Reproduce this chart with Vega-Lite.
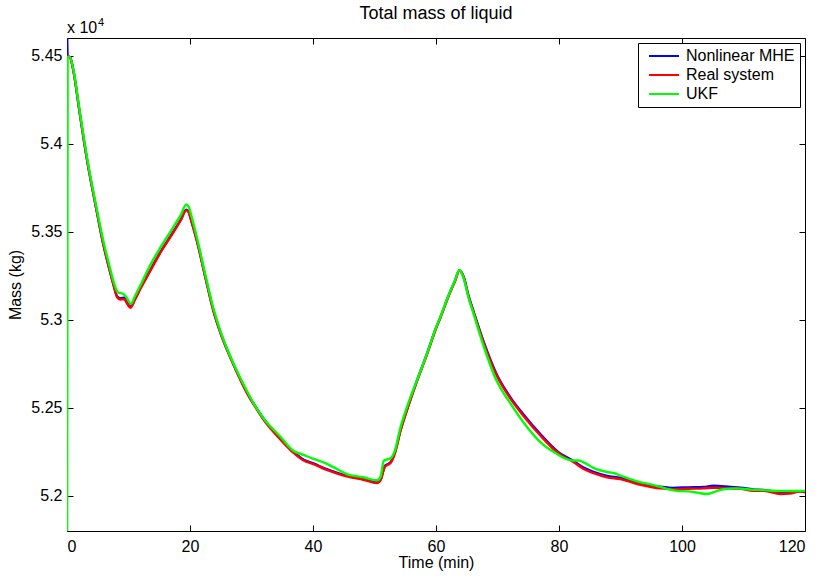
{
  "$schema": "https://vega.github.io/schema/vega-lite/v6.json",
  "width": 738,
  "height": 493,
  "autosize": {"type": "none"},
  "padding": {"left": 67, "top": 38, "right": 19, "bottom": 47},
  "background": "white",
  "config": {
    "font": "Liberation Sans",
    "view": {"stroke": "black", "strokeWidth": 1},
    "axis": {
      "grid": false,
      "domain": false,
      "labelFont": "Liberation Sans",
      "labelFontSize": 16,
      "labelColor": "black",
      "titleFont": "Liberation Sans",
      "titleFontSize": 16,
      "titleFontWeight": "normal",
      "titleColor": "black",
      "tickColor": "black",
      "tickSize": -6,
      "tickWidth": 1
    }
  },
  "title": {
    "text": "Total mass of liquid",
    "font": "Liberation Sans",
    "fontSize": 18,
    "fontWeight": "normal",
    "color": "black",
    "anchor": "middle",
    "offset": -6
  },
  "datasets": {
    "mass": [
      {"time": 0, "mass": 54700, "series": "Nonlinear MHE"},
      {"time": 0.1, "mass": 54495, "series": "Nonlinear MHE"},
      {"time": 0.5, "mass": 54490, "series": "Nonlinear MHE"},
      {"time": 1.07, "mass": 54408, "series": "Nonlinear MHE"},
      {"time": 2.0, "mass": 54190, "series": "Nonlinear MHE"},
      {"time": 2.7, "mass": 54029, "series": "Nonlinear MHE"},
      {"time": 3.5, "mass": 53860, "series": "Nonlinear MHE"},
      {"time": 4.33, "mass": 53707, "series": "Nonlinear MHE"},
      {"time": 5.2, "mass": 53550, "series": "Nonlinear MHE"},
      {"time": 5.95, "mass": 53422, "series": "Nonlinear MHE"},
      {"time": 6.8, "mass": 53300, "series": "Nonlinear MHE"},
      {"time": 7.58, "mass": 53197, "series": "Nonlinear MHE"},
      {"time": 8.2, "mass": 53130, "series": "Nonlinear MHE"},
      {"time": 8.7, "mass": 53122, "series": "Nonlinear MHE"},
      {"time": 9.3, "mass": 53125, "series": "Nonlinear MHE"},
      {"time": 9.8, "mass": 53096, "series": "Nonlinear MHE"},
      {"time": 10.3, "mass": 53074, "series": "Nonlinear MHE"},
      {"time": 11.0, "mass": 53115, "series": "Nonlinear MHE"},
      {"time": 12.0, "mass": 53184, "series": "Nonlinear MHE"},
      {"time": 13.5, "mass": 53279, "series": "Nonlinear MHE"},
      {"time": 15.0, "mass": 53374, "series": "Nonlinear MHE"},
      {"time": 17.0, "mass": 53484, "series": "Nonlinear MHE"},
      {"time": 18.5, "mass": 53569, "series": "Nonlinear MHE"},
      {"time": 19.4, "mass": 53625, "series": "Nonlinear MHE"},
      {"time": 19.7, "mass": 53618, "series": "Nonlinear MHE"},
      {"time": 20.3, "mass": 53552, "series": "Nonlinear MHE"},
      {"time": 21.1, "mass": 53452, "series": "Nonlinear MHE"},
      {"time": 22.5, "mass": 53242, "series": "Nonlinear MHE"},
      {"time": 23.8, "mass": 53053, "series": "Nonlinear MHE"},
      {"time": 25.0, "mass": 52923, "series": "Nonlinear MHE"},
      {"time": 26.0, "mass": 52833, "series": "Nonlinear MHE"},
      {"time": 27.5, "mass": 52714, "series": "Nonlinear MHE"},
      {"time": 29.3, "mass": 52585, "series": "Nonlinear MHE"},
      {"time": 30.5, "mass": 52515, "series": "Nonlinear MHE"},
      {"time": 32.0, "mass": 52436, "series": "Nonlinear MHE"},
      {"time": 34.7, "mass": 52325, "series": "Nonlinear MHE"},
      {"time": 36.8, "mass": 52250, "series": "Nonlinear MHE"},
      {"time": 38.5, "mass": 52204, "series": "Nonlinear MHE"},
      {"time": 40.1, "mass": 52184, "series": "Nonlinear MHE"},
      {"time": 42.0, "mass": 52154, "series": "Nonlinear MHE"},
      {"time": 43.4, "mass": 52137, "series": "Nonlinear MHE"},
      {"time": 45.5, "mass": 52114, "series": "Nonlinear MHE"},
      {"time": 48.2, "mass": 52095, "series": "Nonlinear MHE"},
      {"time": 50.4, "mass": 52076, "series": "Nonlinear MHE"},
      {"time": 51.0, "mass": 52094, "series": "Nonlinear MHE"},
      {"time": 51.7, "mass": 52170, "series": "Nonlinear MHE"},
      {"time": 52.6, "mass": 52190, "series": "Nonlinear MHE"},
      {"time": 53.3, "mass": 52244, "series": "Nonlinear MHE"},
      {"time": 54.2, "mass": 52368, "series": "Nonlinear MHE"},
      {"time": 55.8, "mass": 52543, "series": "Nonlinear MHE"},
      {"time": 57.0, "mass": 52663, "series": "Nonlinear MHE"},
      {"time": 58.5, "mass": 52803, "series": "Nonlinear MHE"},
      {"time": 60.0, "mass": 52953, "series": "Nonlinear MHE"},
      {"time": 60.7, "mass": 53013, "series": "Nonlinear MHE"},
      {"time": 62.0, "mass": 53133, "series": "Nonlinear MHE"},
      {"time": 63.1, "mass": 53223, "series": "Nonlinear MHE"},
      {"time": 63.8, "mass": 53280, "series": "Nonlinear MHE"},
      {"time": 64.5, "mass": 53244, "series": "Nonlinear MHE"},
      {"time": 65.3, "mass": 53135, "series": "Nonlinear MHE"},
      {"time": 66.1, "mass": 53048, "series": "Nonlinear MHE"},
      {"time": 67.7, "mass": 52879, "series": "Nonlinear MHE"},
      {"time": 69.9, "mass": 52687, "series": "Nonlinear MHE"},
      {"time": 72.1, "mass": 52559, "series": "Nonlinear MHE"},
      {"time": 74.2, "mass": 52463, "series": "Nonlinear MHE"},
      {"time": 77.0, "mass": 52349, "series": "Nonlinear MHE"},
      {"time": 79.7, "mass": 52254, "series": "Nonlinear MHE"},
      {"time": 82.4, "mass": 52197, "series": "Nonlinear MHE"},
      {"time": 84.0, "mass": 52160, "series": "Nonlinear MHE"},
      {"time": 85.5, "mass": 52137, "series": "Nonlinear MHE"},
      {"time": 87.8, "mass": 52113, "series": "Nonlinear MHE"},
      {"time": 90.0, "mass": 52101, "series": "Nonlinear MHE"},
      {"time": 92.7, "mass": 52074, "series": "Nonlinear MHE"},
      {"time": 95.0, "mass": 52058, "series": "Nonlinear MHE"},
      {"time": 96.5, "mass": 52051, "series": "Nonlinear MHE"},
      {"time": 98.6, "mass": 52045, "series": "Nonlinear MHE"},
      {"time": 101.0, "mass": 52048, "series": "Nonlinear MHE"},
      {"time": 103.5, "mass": 52050, "series": "Nonlinear MHE"},
      {"time": 105.1, "mass": 52057, "series": "Nonlinear MHE"},
      {"time": 107.9, "mass": 52050, "series": "Nonlinear MHE"},
      {"time": 109.5, "mass": 52046, "series": "Nonlinear MHE"},
      {"time": 111.6, "mass": 52036, "series": "Nonlinear MHE"},
      {"time": 113.3, "mass": 52033, "series": "Nonlinear MHE"},
      {"time": 116.0, "mass": 52019, "series": "Nonlinear MHE"},
      {"time": 117.5, "mass": 52018, "series": "Nonlinear MHE"},
      {"time": 119.2, "mass": 52026, "series": "Nonlinear MHE"},
      {"time": 120.0, "mass": 52024, "series": "Nonlinear MHE"},

      {"time": 0, "mass": 54500, "series": "Real system"},
      {"time": 0.5, "mass": 54490, "series": "Real system"},
      {"time": 1.07, "mass": 54408, "series": "Real system"},
      {"time": 2.0, "mass": 54190, "series": "Real system"},
      {"time": 2.7, "mass": 54029, "series": "Real system"},
      {"time": 3.5, "mass": 53860, "series": "Real system"},
      {"time": 4.33, "mass": 53707, "series": "Real system"},
      {"time": 5.2, "mass": 53550, "series": "Real system"},
      {"time": 5.95, "mass": 53422, "series": "Real system"},
      {"time": 6.8, "mass": 53300, "series": "Real system"},
      {"time": 7.58, "mass": 53195, "series": "Real system"},
      {"time": 8.2, "mass": 53125, "series": "Real system"},
      {"time": 8.7, "mass": 53115, "series": "Real system"},
      {"time": 9.3, "mass": 53116, "series": "Real system"},
      {"time": 9.8, "mass": 53090, "series": "Real system"},
      {"time": 10.3, "mass": 53068, "series": "Real system"},
      {"time": 11.0, "mass": 53110, "series": "Real system"},
      {"time": 12.0, "mass": 53180, "series": "Real system"},
      {"time": 13.5, "mass": 53275, "series": "Real system"},
      {"time": 15.0, "mass": 53370, "series": "Real system"},
      {"time": 17.0, "mass": 53480, "series": "Real system"},
      {"time": 18.5, "mass": 53565, "series": "Real system"},
      {"time": 19.4, "mass": 53621, "series": "Real system"},
      {"time": 19.7, "mass": 53615, "series": "Real system"},
      {"time": 20.3, "mass": 53550, "series": "Real system"},
      {"time": 21.1, "mass": 53450, "series": "Real system"},
      {"time": 22.5, "mass": 53240, "series": "Real system"},
      {"time": 23.8, "mass": 53050, "series": "Real system"},
      {"time": 25.0, "mass": 52920, "series": "Real system"},
      {"time": 26.0, "mass": 52830, "series": "Real system"},
      {"time": 27.5, "mass": 52710, "series": "Real system"},
      {"time": 29.3, "mass": 52580, "series": "Real system"},
      {"time": 30.5, "mass": 52510, "series": "Real system"},
      {"time": 32.0, "mass": 52430, "series": "Real system"},
      {"time": 34.7, "mass": 52320, "series": "Real system"},
      {"time": 36.8, "mass": 52245, "series": "Real system"},
      {"time": 38.5, "mass": 52200, "series": "Real system"},
      {"time": 40.1, "mass": 52180, "series": "Real system"},
      {"time": 42.0, "mass": 52150, "series": "Real system"},
      {"time": 43.4, "mass": 52133, "series": "Real system"},
      {"time": 45.5, "mass": 52110, "series": "Real system"},
      {"time": 48.2, "mass": 52091, "series": "Real system"},
      {"time": 50.4, "mass": 52072, "series": "Real system"},
      {"time": 51.0, "mass": 52090, "series": "Real system"},
      {"time": 51.7, "mass": 52165, "series": "Real system"},
      {"time": 52.6, "mass": 52186, "series": "Real system"},
      {"time": 53.3, "mass": 52240, "series": "Real system"},
      {"time": 54.2, "mass": 52365, "series": "Real system"},
      {"time": 55.8, "mass": 52540, "series": "Real system"},
      {"time": 57.0, "mass": 52660, "series": "Real system"},
      {"time": 58.5, "mass": 52800, "series": "Real system"},
      {"time": 60.0, "mass": 52950, "series": "Real system"},
      {"time": 60.7, "mass": 53010, "series": "Real system"},
      {"time": 62.0, "mass": 53130, "series": "Real system"},
      {"time": 63.1, "mass": 53220, "series": "Real system"},
      {"time": 63.8, "mass": 53278, "series": "Real system"},
      {"time": 64.5, "mass": 53240, "series": "Real system"},
      {"time": 65.3, "mass": 53130, "series": "Real system"},
      {"time": 66.1, "mass": 53043, "series": "Real system"},
      {"time": 67.7, "mass": 52873, "series": "Real system"},
      {"time": 69.9, "mass": 52680, "series": "Real system"},
      {"time": 72.1, "mass": 52552, "series": "Real system"},
      {"time": 74.2, "mass": 52455, "series": "Real system"},
      {"time": 77.0, "mass": 52341, "series": "Real system"},
      {"time": 79.7, "mass": 52247, "series": "Real system"},
      {"time": 82.4, "mass": 52190, "series": "Real system"},
      {"time": 84.0, "mass": 52152, "series": "Real system"},
      {"time": 85.5, "mass": 52130, "series": "Real system"},
      {"time": 87.8, "mass": 52105, "series": "Real system"},
      {"time": 90.0, "mass": 52095, "series": "Real system"},
      {"time": 92.7, "mass": 52067, "series": "Real system"},
      {"time": 95.0, "mass": 52050, "series": "Real system"},
      {"time": 96.5, "mass": 52042, "series": "Real system"},
      {"time": 98.6, "mass": 52038, "series": "Real system"},
      {"time": 101.0, "mass": 52040, "series": "Real system"},
      {"time": 103.5, "mass": 52042, "series": "Real system"},
      {"time": 105.1, "mass": 52046, "series": "Real system"},
      {"time": 107.9, "mass": 52042, "series": "Real system"},
      {"time": 109.5, "mass": 52040, "series": "Real system"},
      {"time": 111.6, "mass": 52028, "series": "Real system"},
      {"time": 113.3, "mass": 52028, "series": "Real system"},
      {"time": 116.0, "mass": 52010, "series": "Real system"},
      {"time": 117.5, "mass": 52012, "series": "Real system"},
      {"time": 119.2, "mass": 52025, "series": "Real system"},
      {"time": 120.0, "mass": 52020, "series": "Real system"},

      {"time": 0, "mass": 51000, "series": "UKF"},
      {"time": 0.1, "mass": 54490, "series": "UKF"},
      {"time": 0.4, "mass": 54494, "series": "UKF"},
      {"time": 1.07, "mass": 54415, "series": "UKF"},
      {"time": 2.0, "mass": 54200, "series": "UKF"},
      {"time": 2.7, "mass": 54040, "series": "UKF"},
      {"time": 3.5, "mass": 53872, "series": "UKF"},
      {"time": 4.33, "mass": 53720, "series": "UKF"},
      {"time": 5.2, "mass": 53565, "series": "UKF"},
      {"time": 5.95, "mass": 53440, "series": "UKF"},
      {"time": 6.8, "mass": 53320, "series": "UKF"},
      {"time": 7.58, "mass": 53215, "series": "UKF"},
      {"time": 8.3, "mass": 53155, "series": "UKF"},
      {"time": 9.1, "mass": 53147, "series": "UKF"},
      {"time": 9.6, "mass": 53130, "series": "UKF"},
      {"time": 10.4, "mass": 53090, "series": "UKF"},
      {"time": 11.0, "mass": 53130, "series": "UKF"},
      {"time": 12.0, "mass": 53200, "series": "UKF"},
      {"time": 13.5, "mass": 53308, "series": "UKF"},
      {"time": 15.0, "mass": 53400, "series": "UKF"},
      {"time": 17.0, "mass": 53510, "series": "UKF"},
      {"time": 18.5, "mass": 53595, "series": "UKF"},
      {"time": 19.4, "mass": 53655, "series": "UKF"},
      {"time": 19.8, "mass": 53640, "series": "UKF"},
      {"time": 20.3, "mass": 53580, "series": "UKF"},
      {"time": 21.1, "mass": 53470, "series": "UKF"},
      {"time": 22.5, "mass": 53255, "series": "UKF"},
      {"time": 23.8, "mass": 53065, "series": "UKF"},
      {"time": 25.0, "mass": 52930, "series": "UKF"},
      {"time": 26.0, "mass": 52838, "series": "UKF"},
      {"time": 27.5, "mass": 52718, "series": "UKF"},
      {"time": 29.3, "mass": 52592, "series": "UKF"},
      {"time": 30.5, "mass": 52515, "series": "UKF"},
      {"time": 32.0, "mass": 52438, "series": "UKF"},
      {"time": 34.7, "mass": 52335, "series": "UKF"},
      {"time": 36.8, "mass": 52256, "series": "UKF"},
      {"time": 38.5, "mass": 52232, "series": "UKF"},
      {"time": 40.1, "mass": 52209, "series": "UKF"},
      {"time": 42.0, "mass": 52185, "series": "UKF"},
      {"time": 43.4, "mass": 52161, "series": "UKF"},
      {"time": 45.5, "mass": 52123, "series": "UKF"},
      {"time": 48.2, "mass": 52105, "series": "UKF"},
      {"time": 50.4, "mass": 52088, "series": "UKF"},
      {"time": 51.0, "mass": 52110, "series": "UKF"},
      {"time": 51.5, "mass": 52199, "series": "UKF"},
      {"time": 52.6, "mass": 52213, "series": "UKF"},
      {"time": 53.3, "mass": 52255, "series": "UKF"},
      {"time": 54.2, "mass": 52385, "series": "UKF"},
      {"time": 55.8, "mass": 52555, "series": "UKF"},
      {"time": 57.0, "mass": 52665, "series": "UKF"},
      {"time": 58.5, "mass": 52805, "series": "UKF"},
      {"time": 60.0, "mass": 52955, "series": "UKF"},
      {"time": 60.7, "mass": 53015, "series": "UKF"},
      {"time": 62.0, "mass": 53135, "series": "UKF"},
      {"time": 63.1, "mass": 53225, "series": "UKF"},
      {"time": 63.8, "mass": 53282, "series": "UKF"},
      {"time": 64.5, "mass": 53235, "series": "UKF"},
      {"time": 65.3, "mass": 53125, "series": "UKF"},
      {"time": 66.1, "mass": 53035, "series": "UKF"},
      {"time": 67.7, "mass": 52855, "series": "UKF"},
      {"time": 69.9, "mass": 52650, "series": "UKF"},
      {"time": 72.1, "mass": 52525, "series": "UKF"},
      {"time": 74.2, "mass": 52418, "series": "UKF"},
      {"time": 77.0, "mass": 52304, "series": "UKF"},
      {"time": 79.7, "mass": 52237, "series": "UKF"},
      {"time": 80.8, "mass": 52215, "series": "UKF"},
      {"time": 82.2, "mass": 52200, "series": "UKF"},
      {"time": 83.2, "mass": 52200, "series": "UKF"},
      {"time": 84.0, "mass": 52190, "series": "UKF"},
      {"time": 85.5, "mass": 52160, "series": "UKF"},
      {"time": 87.8, "mass": 52135, "series": "UKF"},
      {"time": 89.0, "mass": 52128, "series": "UKF"},
      {"time": 90.0, "mass": 52114, "series": "UKF"},
      {"time": 92.7, "mass": 52082, "series": "UKF"},
      {"time": 95.4, "mass": 52061, "series": "UKF"},
      {"time": 97.0, "mass": 52045, "series": "UKF"},
      {"time": 99.2, "mass": 52028, "series": "UKF"},
      {"time": 101.0, "mass": 52025, "series": "UKF"},
      {"time": 102.5, "mass": 52018, "series": "UKF"},
      {"time": 104.1, "mass": 52010, "series": "UKF"},
      {"time": 105.5, "mass": 52025, "series": "UKF"},
      {"time": 106.5, "mass": 52036, "series": "UKF"},
      {"time": 108.9, "mass": 52042, "series": "UKF"},
      {"time": 111.0, "mass": 52036, "series": "UKF"},
      {"time": 113.3, "mass": 52032, "series": "UKF"},
      {"time": 116.0, "mass": 52027, "series": "UKF"},
      {"time": 119.8, "mass": 52028, "series": "UKF"},
      {"time": 120.0, "mass": 52028, "series": "UKF"}
    ]
  },
  "layer": [
    {
      "data": {"name": "mass"},
      "mark": {"type": "line", "strokeWidth": 2.4, "clip": true, "interpolate": "monotone"},
      "encoding": {
        "x": {
          "field": "time",
          "type": "quantitative",
          "scale": {"domain": [0, 120], "nice": false, "zero": false},
          "axis": {
            "orient": "bottom",
            "title": "Time (min)",
            "values": [0, 20, 40, 60, 80, 100, 120],
            "labelPadding": 13,
            "titlePadding": 0,
            "zindex": 0
          }
        },
        "y": {
          "field": "mass",
          "type": "quantitative",
          "scale": {"domain": [51800, 54600], "nice": false, "zero": false},
          "axis": {
            "orient": "left",
            "title": "Mass (kg)",
            "values": [52000, 52500, 53000, 53500, 54000, 54500],
            "labelExpr": "format(datum.value / 10000, '.2~f')",
            "labelPadding": 11,
            "titlePadding": 7,
            "zindex": 0
          }
        },
        "color": {
          "field": "series",
          "type": "nominal",
          "scale": {
            "domain": ["Nonlinear MHE", "Real system", "UKF"],
            "range": ["#0000ff", "#ff0000", "#00ff00"]
          },
          "legend": {
            "title": null,
            "orient": "top-right",
            "offset": 5,
            "strokeColor": "black",
            "fillColor": "white",
            "padding": 5,
            "symbolType": "M-0.4,0H5.6",
            "symbolSize": 100,
            "symbolStrokeWidth": 2,
            "labelFont": "Liberation Sans",
            "labelFontSize": 16,
            "labelColor": "black",
            "labelOffset": 27,
            "rowPadding": 3
          }
        }
      }
    },
    {
      "data": {"values": [{"note": "exponent"}]},
      "mark": {"type": "text", "align": "left", "baseline": "alphabetic", "dy": -5, "fontSize": 16, "font": "Liberation Sans", "color": "black"},
      "encoding": {
        "x": {
          "datum": 0,
          "type": "quantitative",
          "axis": {"orient": "top", "title": null, "labels": false, "values": [0, 20, 40, 60, 80, 100, 120]}
        },
        "y": {
          "datum": 54600,
          "type": "quantitative",
          "axis": {"orient": "right", "title": null, "labels": false, "values": [52000, 52500, 53000, 53500, 54000, 54500]}
        },
        "text": {"value": "x 10"}
      }
    },
    {
      "data": {"values": [{"note": "exponent"}]},
      "mark": {"type": "text", "align": "left", "baseline": "alphabetic", "dx": 31, "dy": -12, "fontSize": 11, "font": "Liberation Sans", "color": "black"},
      "encoding": {
        "x": {"datum": 0, "type": "quantitative", "axis": null},
        "y": {"datum": 54600, "type": "quantitative", "axis": null},
        "text": {"value": "4"}
      }
    }
  ],
  "resolve": {"axis": {"x": "independent", "y": "independent"}}
}
